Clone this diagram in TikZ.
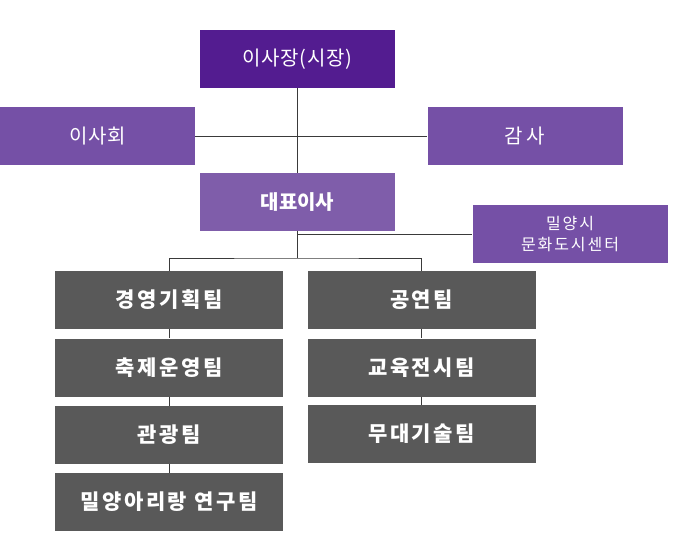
\documentclass[tikz,border=0pt]{standalone}
\usepackage{fontspec}
\setmainfont{Noto Sans CJK KR}
\newfontfamily\krspaced[LetterSpace=12]{Noto Sans CJK KR}
\newfontfamily\krlight[LetterSpace=4]{Noto Sans CJK KR}
\usetikzlibrary{positioning}
\definecolor{chairPurple}{HTML}{531C90}
\definecolor{boardPurple}{HTML}{7550A6}
\definecolor{ceoPurple}{HTML}{7F5DAA}
\definecolor{teamGray}{HTML}{595959}
\definecolor{lineGray}{HTML}{3A3A3A}

\begin{document}
\begin{tikzpicture}[x=1pt, y=-1pt,
    orgbox/.style={minimum width=195pt, minimum height=58pt, inner sep=0pt,
        text=white, font=\fontsize{20}{24}\selectfont\krlight},
    teambox/.style={orgbox, fill=teamGray, minimum width=228pt,
        font=\fontsize{21}{24}\selectfont\krspaced\bfseries},
    link/.style={draw=lineGray, line width=0.8pt}]

    \useasboundingbox (0,0) rectangle (676,540);

    % top level
    \node[orgbox, fill=chairPurple] (chair) at (297.5,59) {이사장(시장)};
    \node[orgbox, fill=boardPurple] (board) at (97.5,136) {이사회};
    \node[orgbox, fill=boardPurple] (audit) at (525,136) {감\,사};
    \node[orgbox, fill=ceoPurple, font=\fontsize{20}{24}\selectfont\bfseries] (ceo) at (297.5,202) {대표이사};
    \node[orgbox, fill=boardPurple, align=center,
        font=\fontsize{16}{21}\selectfont\krspaced] (center) at (570,234) {밀양시\\문화도시센터};

    % left teams
    \node[teambox] (plan) at (169,300) {경영기획팀};
    \node[teambox] (festival) at (169,367.5) {축제운영팀};
    \node[teambox] (tour) at (169,435) {관광팀};
    \node[teambox] (arirang) at (169,502) {밀양아리랑 연구팀};

    % right teams
    \node[teambox] (show) at (421.5,300) {공연팀};
    \node[teambox] (edu) at (421.5,367.5) {교육전시팀};
    \node[teambox] (stage) at (421.5,434) {무대기술팀};

    % connectors
    \coordinate (split) at (297.5,258);
    \draw[link] (chair) -- (ceo);
    \draw[link] (board) -- (audit);
    \draw[link] (ceo.south) -- (split);
    \draw[link] (ceo.south |- center.west) -- (center.west);
    \draw[link] (plan.north) |- (split) -| (show.north);
    \draw[link] (plan) -- (festival);
    \draw[link] (festival) -- (tour);
    \draw[link] (tour) -- (arirang);
    \draw[link] (show) -- (edu);
    \draw[link] (edu) -- (stage);

\end{tikzpicture}
\end{document}
